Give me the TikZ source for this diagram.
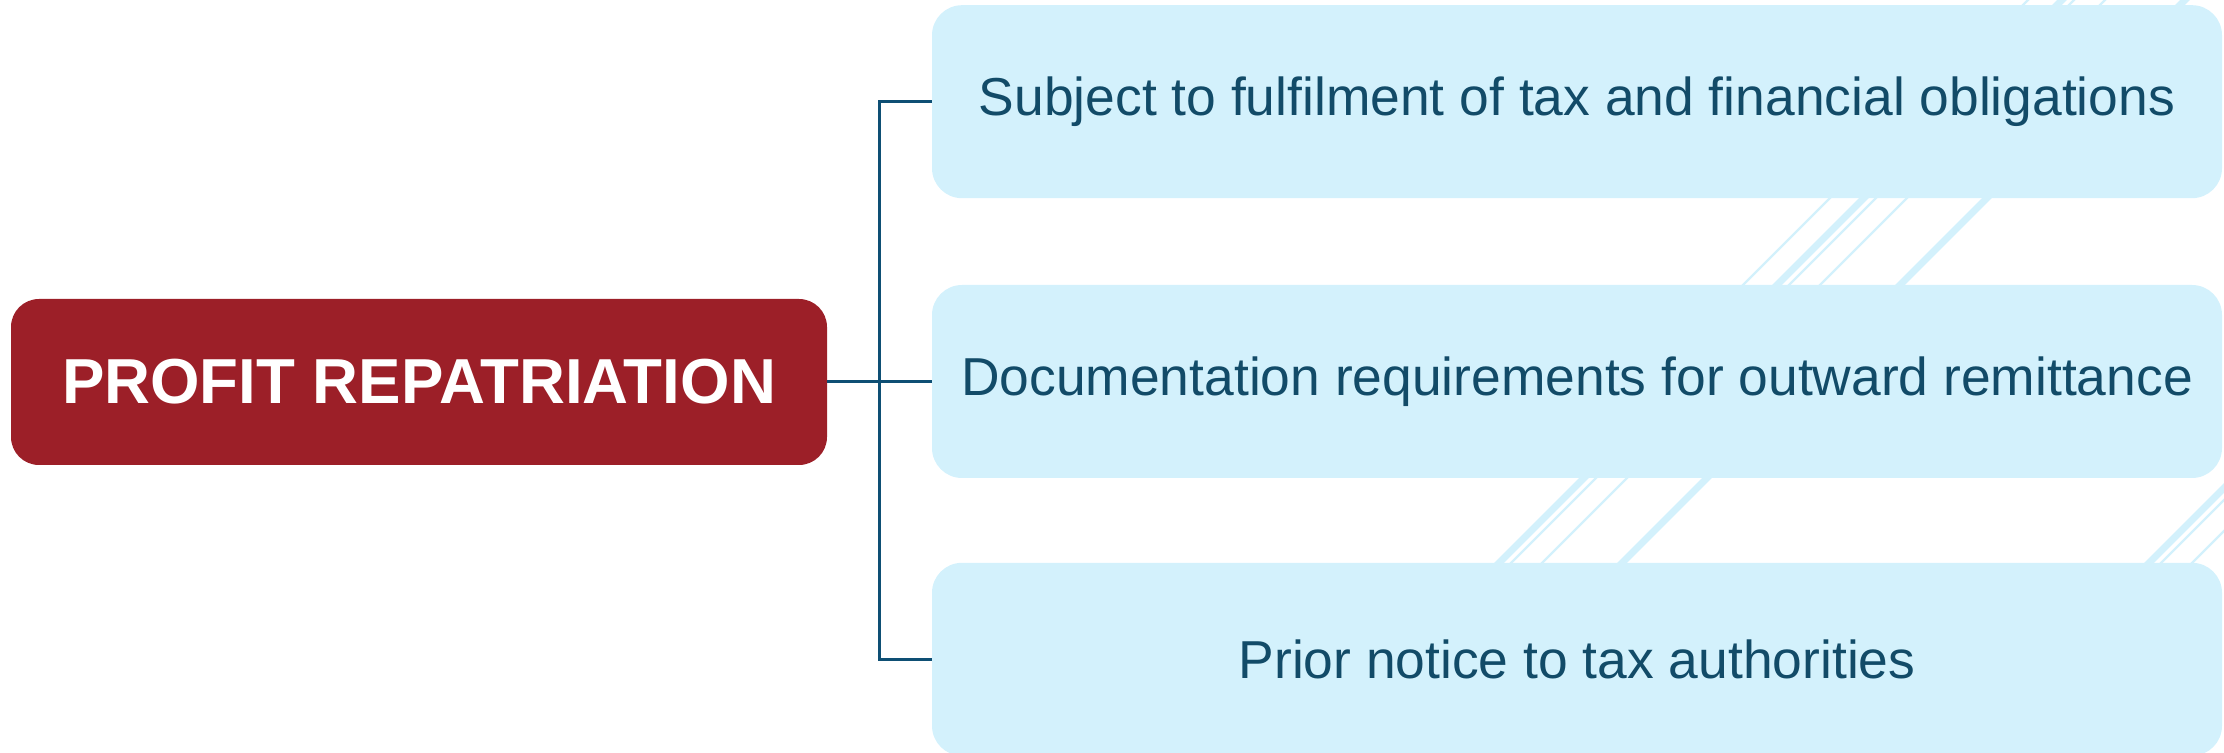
\documentclass[tikz,border=0pt]{standalone}
\usepackage{fontspec}
\setmainfont{Liberation Sans}
\usepackage{xcolor}
\definecolor{colorRoot}{HTML}{9C1F28}
\definecolor{colorLeaf}{HTML}{D3F1FC}
\definecolor{colorLeafText}{HTML}{124B68}
\definecolor{colorLink}{HTML}{0E4F74}
\definecolor{colorStripe}{HTML}{D3F1FC}
\usetikzlibrary{positioning}

\begin{document}
\begin{tikzpicture}[x=0.5pt, y=-0.5pt, node distance=43pt,
  rootBox/.style={fill=colorRoot, text=white, rounded corners=14pt, minimum width=408pt, minimum height=83pt, inner sep=0pt, font=\bfseries\fontsize{31.8}{36}\selectfont},
  leafBox/.style={fill=colorLeaf, text=colorLeafText, rounded corners=15pt, minimum width=645pt, minimum height=96.5pt, inner sep=0pt, font=\fontsize{26.7}{32}\selectfont},
  link/.style={colorLink, line width=1.5pt},
  stripe/.style={colorStripe}]
\useasboundingbox (0,0) rectangle (2224,753);
% stripes behind the boxes
\foreach \sx in {1500,2150}
  \foreach \dx/\lw in {0/3.5pt,12/1.2pt,43/1.2pt,123/3.5pt}
    \draw[stripe, line width=\lw] (\sx+\dx-10,572) -- ++(620,-620);
\draw[stripe, line width=1.2pt] (1733,295) -- ++(320,-320);
\node[rootBox] (repat) at (419,382) {PROFIT REPATRIATION};
\node[leafBox] (docs) at (1577,381.5) {Documentation requirements for outward remittance};
\node[leafBox, above=of docs] (tax) {Subject to fulfilment of tax and financial obligations};
\node[leafBox, below=42pt of docs] (notice) {Prior notice to tax authorities};
\coordinate[right=26pt of repat] (fork);
\draw[link] (repat) -- (fork) |- (tax);
\draw[link] (fork) |- (docs);
\draw[link] (fork) |- (notice);
\end{tikzpicture}
\end{document}
